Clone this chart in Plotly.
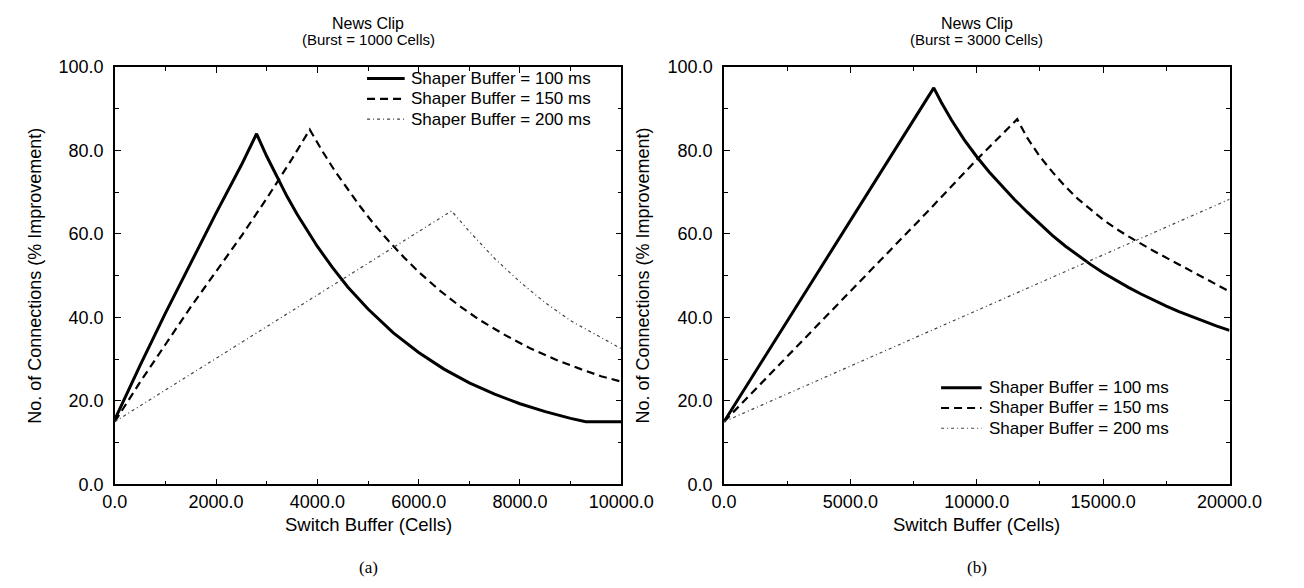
import plotly.graph_objects as go

# ---- Data: panel (a) Burst = 1000 cells ----
a_x_100 = [0, 500, 1000, 1500, 2000, 2500, 2800, 3000, 3200, 3400, 3600, 3800, 4000, 4300, 4600, 5000, 5500, 6000, 6500, 7000, 7500, 8000, 8500, 9000, 9300, 10000]
a_y_100 = [15.5, 28.5, 41, 53, 65, 76.5, 84, 78.6, 73.6, 69, 64.7, 60.7, 57, 51.9, 47.3, 42, 36.3, 31.6, 27.6, 24.3, 21.6, 19.3, 17.4, 15.8, 15, 15]

a_x_150 = [0, 500, 1000, 1500, 2000, 2500, 3000, 3500, 3850, 4100, 4350, 4600, 4850, 5100, 5400, 5700, 6000, 6400, 6800, 7200, 7700, 8200, 8700, 9200, 9600, 10000]
a_y_150 = [15, 24.5, 33.5, 42.5, 51, 59.5, 68.5, 78, 85, 79.8, 75, 70.6, 66.5, 62.6, 58.4, 54.5, 50.9, 46.6, 42.8, 39.4, 35.8, 32.6, 29.9, 27.6, 25.9, 24.6]

a_x_200 = [0, 1000, 2000, 3000, 4000, 5000, 6000, 6650, 7000, 7500, 8000, 8500, 9000, 9500, 10000]
a_y_200 = [15, 22.6, 30.2, 37.9, 45.5, 53.1, 60.7, 65.5, 60.6, 54.1, 48.5, 43.5, 39.2, 35.8, 32.5]

# ---- Data: panel (b) Burst = 3000 cells ----
b_x_100 = [0, 2000, 4000, 6000, 8300, 8600, 9000, 9500, 10000, 10500, 11000, 11500, 12000, 12500, 13000, 13500, 14000, 14500, 15000, 15500, 16000, 16500, 17000, 17500, 18000, 18500, 19000, 19500, 20000]
b_y_100 = [15, 34.3, 53.6, 72.8, 95, 91.5, 87.3, 82.6, 78.5, 74.8, 71.4, 68.2, 65.2, 62.3, 59.6, 57.1, 54.8, 52.7, 50.7, 48.9, 47.2, 45.6, 44.1, 42.7, 41.4, 40.2, 39.0, 37.9, 36.9]

b_x_150 = [0, 2000, 4000, 6000, 8000, 10000, 11600, 12000, 12500, 13000, 13500, 14000, 14500, 15000, 15500, 16000, 17000, 18000, 19000, 20000]
b_y_150 = [15, 27.5, 40, 52.5, 65, 77.8, 87.5, 83, 78.5, 74.8, 71.4, 68.4, 65.8, 63.4, 61.3, 59.4, 55.9, 52.6, 49.4, 46.2]

b_x_200 = [0, 5000, 10000, 15000, 20000]
b_y_200 = [15, 28.3, 41.6, 55, 68.3]

series_names = ["Shaper Buffer = 100 ms", "Shaper Buffer = 150 ms", "Shaper Buffer = 200 ms"]
titles = ["News Clip", "News Clip"]
subtitles = ["(Burst = 1000 Cells)", "(Burst = 3000 Cells)"]
x_title = "Switch Buffer (Cells)"
y_title = "No. of Connections (% Improvement)"
panel_labels = ["(a)", "(b)"]

FONT = "Liberation Sans, Arial, Helvetica, sans-serif"
styles = [
    dict(color="black", width=3, dash="solid"),
    dict(color="black", width=2.2, dash="8px,5px"),
    dict(color="#444444", width=1.2, dash="3px,3px,1px,3px"),
]

W, H = 1304, 588
def px(x):
    return x / W
def py(y):
    return 1 - y / H

fig = go.Figure()
for (xs, ys), st, nm in zip([(a_x_100, a_y_100), (a_x_150, a_y_150), (a_x_200, a_y_200)], styles, series_names):
    fig.add_trace(go.Scatter(x=xs, y=ys, mode="lines", line=st, name=nm,
                             xaxis="x", yaxis="y", showlegend=False))
for (xs, ys), st, nm in zip([(b_x_100, b_y_100), (b_x_150, b_y_150), (b_x_200, b_y_200)], styles, series_names):
    fig.add_trace(go.Scatter(x=xs, y=ys, mode="lines", line=st, name=nm,
                             xaxis="x2", yaxis="y2", showlegend=False))

L1, R1 = px(105.5), px(630.5)
L2, R2 = px(737), px(1261)
B, T = py(491), py(59)

axis_common = dict(showline=True, linecolor="black", linewidth=1.5, mirror="ticks",
                   ticks="inside", ticklen=6, tickcolor="black", tickwidth=1.2,
                   showgrid=False, zeroline=False, tickformat=".1f",
                   tickfont=dict(family=FONT, size=18, color="black"))

fig.update_layout(
    width=W, height=H, margin=dict(l=0, r=0, t=0, b=0),
    paper_bgcolor="white", plot_bgcolor="white",
    font=dict(family=FONT, color="black"),
    showlegend=False,
    xaxis=dict(domain=[L1, R1], range=[0, 10000], dtick=2000, anchor="y",
               minor=dict(dtick=1000, ticks="inside", ticklen=4, tickcolor="black"), **axis_common),
    yaxis=dict(domain=[B, T], range=[0, 100], dtick=20, anchor="x", ticklabelstandoff=6,
               minor=dict(dtick=10, ticks="inside", ticklen=4, tickcolor="black"), **axis_common),
    xaxis2=dict(domain=[L2, R2], range=[0, 20000], dtick=5000, anchor="y2",
                minor=dict(dtick=2500, ticks="inside", ticklen=4, tickcolor="black"), **axis_common),
    yaxis2=dict(domain=[B, T], range=[0, 100], dtick=20, anchor="x2", ticklabelstandoff=6,
                minor=dict(dtick=10, ticks="inside", ticklen=4, tickcolor="black"), **axis_common),
)

# Manual legends (line sample + text), positions in pixels
legend_specs = [
    dict(x0=367, x1=406, xt=411, rows=[71, 92, 113]),
    dict(x0=962, x1=1004, xt=1011, rows=[391, 412, 433]),
]
shapes = []
ann = []
for spec in legend_specs:
    for st, nm, ry in zip(styles, series_names, spec["rows"]):
        shapes.append(dict(type="line", xref="paper", yref="paper",
                           x0=px(spec["x0"]), x1=px(spec["x1"]), y0=py(ry), y1=py(ry),
                           line=dict(color=st["color"], width=st["width"], dash=st["dash"])))
        ann.append(dict(x=px(spec["xt"]), y=py(ry), xref="paper", yref="paper", text=nm,
                        showarrow=False, xanchor="left", yanchor="middle", borderpad=0,
                        font=dict(family=FONT, size=17, color="black")))

centers = [(L1 + R1) / 2, (L2 + R2) / 2]
for c, t, s, pl in zip(centers, titles, subtitles, panel_labels):
    ann.append(dict(x=c, y=py(14), xref="paper", yref="paper", text=t, showarrow=False,
                    xanchor="center", yanchor="middle", font=dict(family=FONT, size=16, color="black")))
    ann.append(dict(x=c, y=py(31), xref="paper", yref="paper", text=s, showarrow=False,
                    xanchor="center", yanchor="middle", font=dict(family=FONT, size=15, color="black")))
    ann.append(dict(x=c, y=py(533), xref="paper", yref="paper", text=x_title, showarrow=False,
                    xanchor="center", yanchor="middle", font=dict(family=FONT, size=18.5, color="black")))
    ann.append(dict(x=c, y=py(577), xref="paper", yref="paper", text=pl, showarrow=False,
                    xanchor="center", yanchor="middle",
                    font=dict(family="Liberation Serif, Times New Roman, serif", size=17, color="black")))
for xpx in [22, 653]:
    ann.append(dict(x=px(xpx), y=(B + T) / 2, xref="paper", yref="paper", text=y_title, showarrow=False,
                    textangle=-90, xanchor="center", yanchor="middle",
                    font=dict(family=FONT, size=18, color="black")))
fig.update_layout(annotations=ann, shapes=shapes)

fig.write_html("out.html")
